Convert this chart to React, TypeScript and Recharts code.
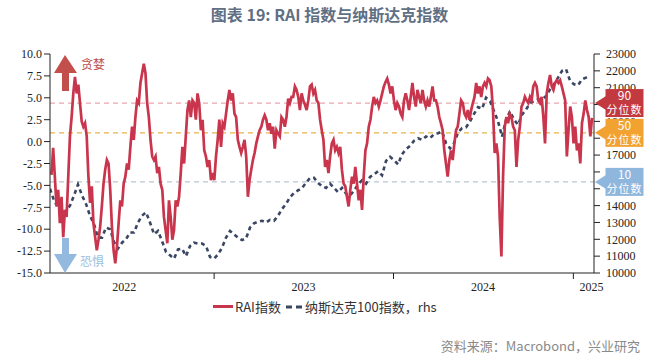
import { LineChart, Line, XAxis, YAxis, ReferenceLine } from 'recharts'

// RAI, roughly twice a week
const RAI_START = '2022-02-04'
const RAI_END = '2025-02-08'
const RAI_VALUES = [
  -3.8, -0.7, -4.0, -7.4, -5.5, -9.3, -6.3, -10.9, -7.8, -8.6,
  -4.0, 0.6, 2.8, 5.5, 7.4, 5.5, 6.5, 4.4, 2.3, 1.7,
  2.1, 0.6, -4.0, -7.0, -5.1, -9.3, -10.9, -12.4, -11.2, -9.7,
  -7.4, -4.8, -3.2, -2.1, -2.5, -5.5, -9.7, -12.4, -13.9, -12.0,
  -9.3, -6.7, -7.4, -4.8, -4.0, -2.5, -3.2, -0.6, 1.7, 0.2,
  2.8, 4.7, 4.4, 6.7, 7.8, 8.9, 7.8, 4.4, 2.8, 0.2,
  -1.7, -2.1, -1.7, -3.6, -2.9, -4.8, -5.5, -8.6, -10.1, -11.6,
  -6.7, -8.6, -11.2, -10.1, -6.7, -7.4, -6.3, -3.6, -0.6, -2.5,
  0.6,
  3.6, 4.7, 2.8, 4.7, 4.4, 2.5, 5.5, 4.4, 1.3, 2.5,
  -1.0, -1.7, -2.9, -2.1, -4.4, -3.6, -4.4, -1.7, 0.2, 2.5,
  -0.6, 2.1, 1.7, 3.2, 4.7, 5.9, 4.7, 5.5, 3.2, 2.8,
  0.2, -0.6, -1.3, -0.6, 0.2, -1.7, -6.3, -4.4, -3.2, -2.1,
  -1.3, -0.2, 0.6, 1.3, 1.7, 2.5, 3.0, 2.5, 1.3, 2.1,
  0.9, 1.7, -0.8, 1.3, 0.9, 0.6, 2.8, 2.5, 1.7, 2.8,
  4.9, 4.4, 5.1, 5.1, 6.3, 5.9, 5.1, 3.6, 5.5, 4.7,
  4.2, 3.6, 4.7, 6.3, 6.5, 5.5, 5.9, 4.7, 4.4, 2.5,
  1.3,
  0.2, -2.9, -2.1, -3.6, -1.7, -0.2, 0.2, -1.0, -0.6, -1.3,
  -0.6, -3.2, -4.8, -5.1, -6.3, -7.4, -5.5, -4.0, -4.8, -2.9,
  -4.8, -6.7, -5.5, -7.8, -4.0, -1.0, -0.2, 1.7, 2.5, 4.0,
  5.1, 4.4, 4.7, 4.0, 4.7, 5.5, 6.3, 6.8, 7.2, 6.5,
  5.5, 6.3, 4.7, 3.6, 4.4, 4.0, 3.2, 2.8, 4.7, 5.5,
  4.7, 3.6, 5.1, 6.7, 5.1, 4.0, 5.9, 5.1, 4.4, 5.9,
  4.7, 4.0, 4.7, 4.0, 5.1, 6.3, 4.7, 4.7, 4.0, 2.8,
  2.1, 1.3, -1.0, -2.5, -4.0, -2.1, -1.0, -2.1, -0.2, 1.3,
  1.7, 3.2,
  4.7, 4.4, 3.2, 2.8, 3.6, 2.5, 3.6, 4.4, 5.1, 6.7,
  5.5, 6.3, 5.1, 6.3, 6.7, 6.3, 7.2, 7.0, 6.3,
  3.6, -1.3, -0.2, -1.7, -8.6, -13.1, -4.0, 1.7, 2.8,
  2.1, 3.2, 2.8, 1.7, 1.3, -2.9, 0.2, 1.7, 4.0, 4.4,
  5.1, 4.7, 4.4, 5.1, 4.7, 6.3, 6.7, 6.3, 4.7, 4.4, 5.1,
  2.8, -0.2, 5.5, 6.7, 7.6,
  6.3, 5.9, 6.7, 7.0, 6.7, 7.0, 6.3,
  5.5, 4.7, -1.7, 1.3, 4.0, 2.8, -0.2, 1.7,
  -1.0, -0.2, -2.5, 2.1, 3.2, 4.7, 3.6, 2.8, 0.6, 2.7,
]

// Nasdaq 100, roughly weekly
const NDX_START = '2022-02-01'
const NDX_END = '2025-02-04'
const NDX_VALUES = [
  15000, 14300, 13900, 13500, 13700, 14000, 14600, 15250, 14600, 14100,
  13400, 12900, 12100, 12100, 12700, 12600, 11850, 11450, 11800, 12000,
  12400, 12400, 13000, 13400, 13600, 13000, 12300, 12500, 11900, 11250,
  11050, 10850, 11400, 11450, 11000, 11600, 11800, 11750, 11750, 11600,
  10950, 10850, 11100, 11500, 12100, 12500, 12300, 12100, 11950, 12050,
  12700, 12950, 13050, 13100, 13000, 13150, 13100, 13400, 13800, 14100,
  14500, 14750, 14900, 15050, 15350, 15650, 15650, 15350, 15150, 15050,
  15300, 15050, 14800, 15050, 14700, 14600, 14900, 15250, 15500, 15300,
  15700, 15850, 16050, 15800, 16650, 16900, 16700, 16450, 17050, 17350,
  17550, 17850, 18000, 17900, 18100, 18000, 18250, 18300, 18400, 17700,
  17400, 17700, 18350, 18600, 18650, 19000, 19450, 19850, 19750, 20400,
  20200, 19600, 19000, 18100, 19100, 19600, 19100, 18800, 19400, 19700,
  20100, 20200, 20300, 20300, 20500, 20900, 21200, 21600, 22000, 22100,
  21400, 21200, 21150, 21500, 21600, 21700,
]

const X_DOMAIN = ['2022-02-01', '2025-02-12']
const YEAR_BOUNDARIES = ['2023-01-01', '2024-01-01', '2025-01-01']
const YEAR_LABELS = ['2022', '2023', '2024', '2025']
const YEAR_LABEL_AT = ['2022-07-02', '2023-07-02', '2024-07-01', '2025-02-07']

const LEFT_DOMAIN = [-15, 10]
const LEFT_TICKS = [-15, -12.5, -10, -7.5, -5, -2.5, 0, 2.5, 5, 7.5, 10]
const RIGHT_TICKS = [
  10000, 11000, 12000, 13000, 14000, 15000, 16000,
  17000, 18000, 19000, 20000, 21000, 22000, 23000,
]

const PCT_LABELS = ['90', '50', '10']
const PCT_VALUES = [4.4, 1.0, -4.6]
const PCT_LINE_COLORS = ['#e9a7ae', '#e8b24a', '#b9c5d2']
const PCT_BOX_COLORS = ['#c23a40', '#f2a230', '#8fb6dc']

const RED = '#c9354c'
const NAVY = '#3a4663'
const SERIF = '"Liberation Serif", "DejaVu Serif", serif'
const CJK = '"Noto Sans CJK SC", "Noto Sans", sans-serif'

// plot area (chart margins + axis sizes below are chosen to give this)
const PLOT_TOP = 54
const PLOT_BOTTOM = 273
const PLOT_RIGHT = 594

const toTs = (d: string) => Date.parse(d)

function spread(start: string, end: string, values: number[], key: string) {
  const t0 = toTs(start)
  const step = (toTs(end) - t0) / (values.length - 1)
  return values.map((v, i) => ({ t: t0 + i * step, [key]: v }))
}

const chartData = [
  ...spread(RAI_START, RAI_END, RAI_VALUES, 'rai'),
  ...spread(NDX_START, NDX_END, NDX_VALUES, 'ndx'),
].sort((a, b) => a.t - b.t)

const boundaryTs = YEAR_BOUNDARIES.map(toTs)
const labelTs = YEAR_LABEL_AT.map(toTs)

// same linear mapping as the left axis, used for the callouts drawn on top
function leftY(v: number) {
  const [lo, hi] = LEFT_DOMAIN
  return PLOT_TOP + ((hi - v) / (hi - lo)) * (PLOT_BOTTOM - PLOT_TOP)
}

function YearTick(props: any) {
  const { x, y, payload } = props
  const value = payload.value
  if (boundaryTs.includes(value)) {
    return <line x1={x} x2={x} y1={y} y2={y + 6} stroke="#222" strokeWidth={1} />
  }
  const i = labelTs.indexOf(value)
  return (
    <text x={x} y={y + 18} textAnchor="middle" fontSize={12} fontFamily={SERIF} fill="#222">
      {YEAR_LABELS[i]}
    </text>
  )
}

function Callout({ y, text, color }: { y: number; text: string; color: string }) {
  const x = PLOT_RIGHT
  return (
    <g>
      <polygon points={`${x + 1},${y} ${x + 12},${y - 7} ${x + 12},${y + 7}`} fill={color} />
      <rect x={x + 11.5} y={y - 14} width={38} height={28} fill={color} />
      <text x={x + 30.5} y={y - 3} textAnchor="middle" fontSize={12} fontFamily={CJK} fill="#fff">
        {text}
      </text>
      <text x={x + 30.5} y={y + 11} textAnchor="middle" fontSize={11} fontFamily={CJK} fill="#fff" letterSpacing={1}>
        分位数
      </text>
    </g>
  )
}

export default function App() {
  return (
    <div style={{ position: 'absolute', left: 0, top: 0, width: 659, height: 361, background: '#fff' }}>
      <div style={{
        position: 'absolute',
        top: 3,
        width: 659,
        textAlign: 'center',
        fontFamily: CJK,
        fontSize: 16,
        fontWeight: 700,
        lineHeight: '22px',
        color: '#5f6f84',
      }}>
        图表 19: RAI 指数与纳斯达克指数
      </div>

      <LineChart width={659} height={361} data={chartData} margin={{ top: PLOT_TOP, right: 0, bottom: 58, left: 0 }}>
        <XAxis
          dataKey="t"
          type="number"
          domain={X_DOMAIN.map(toTs)}
          allowDataOverflow
          ticks={[...boundaryTs, ...labelTs]}
          interval={0}
          tick={<YearTick />}
          tickLine={false}
          tickSize={0}
          tickMargin={0}
          height={30}
          axisLine={{ stroke: '#222' }}
        />
        <YAxis
          yAxisId="left"
          domain={LEFT_DOMAIN}
          ticks={LEFT_TICKS}
          interval={0}
          width={50}
          tickFormatter={v => v.toFixed(1)}
          tick={{ fontSize: 12, fontFamily: SERIF, fill: '#222' }}
          tickLine={{ stroke: '#222' }}
          axisLine={{ stroke: '#222' }}
          tickSize={6}
          tickMargin={2}
        />
        <YAxis
          yAxisId="right"
          orientation="right"
          domain={[10000, 23000]}
          ticks={RIGHT_TICKS}
          interval={0}
          width={65}
          tick={{ fontSize: 12, fontFamily: SERIF, fill: '#222' }}
          tickLine={{ stroke: '#222' }}
          axisLine={{ stroke: '#222' }}
          tickSize={6}
          tickMargin={6}
        />

        {PCT_VALUES.map((v, i) => (
          <ReferenceLine
            key={PCT_LABELS[i]}
            yAxisId="left"
            y={v}
            stroke={PCT_LINE_COLORS[i]}
            strokeDasharray="5 4"
            strokeWidth={1.2}
          />
        ))}

        <Line
          yAxisId="right"
          dataKey="ndx"
          stroke={NAVY}
          strokeWidth={2.6}
          strokeDasharray="4 3.5"
          dot={false}
          connectNulls
          isAnimationActive={false}
        />
        <Line
          yAxisId="left"
          dataKey="rai"
          stroke={RED}
          strokeWidth={2.7}
          dot={false}
          connectNulls
          isAnimationActive={false}
        />
      </LineChart>

      <svg width={659} height={361} style={{ position: 'absolute', left: 0, top: 0, pointerEvents: 'none' }}>
        <polygon points="65,55 77,73 69,73 69,91 62,91 62,73 54,73" fill="#c24f4b" />
        <text x={81} y={69} fontSize={12} fontFamily={CJK} fill="#c0504d">贪婪</text>
        <polygon points="62,238 69,238 69,254 77,254 65,273 54,254 62,254" fill="#93b9df" />
        <text x={80} y={266} fontSize={12} fontFamily={CJK} fill="#9dbfe0">恐惧</text>
        {PCT_VALUES.map((v, i) => (
          <Callout key={PCT_LABELS[i]} y={leftY(v)} text={PCT_LABELS[i]} color={PCT_BOX_COLORS[i]} />
        ))}
      </svg>

      <div style={{ position: 'absolute', left: 213, top: 305, width: 20, height: 3, background: RED }} />
      <div style={{ position: 'absolute', left: 235, top: 298, fontFamily: CJK, fontSize: 13, lineHeight: '18px', color: '#333' }}>
        RAI指数
      </div>
      <svg width={18} height={6} style={{ position: 'absolute', left: 286, top: 304 }}>
        <line x1={0} x2={16} y1={3} y2={3} stroke={NAVY} strokeWidth={3} strokeDasharray="6 4" />
      </svg>
      <div style={{ position: 'absolute', left: 305, top: 298, fontFamily: CJK, fontSize: 13, lineHeight: '18px', color: '#333' }}>
        纳斯达克100指数，rhs
      </div>

      <div style={{ position: 'absolute', right: 19, top: 337, fontFamily: CJK, fontSize: 13, lineHeight: '18px', color: '#8a8a8a' }}>
        资料来源：Macrobond，兴业研究
      </div>
    </div>
  )
}
